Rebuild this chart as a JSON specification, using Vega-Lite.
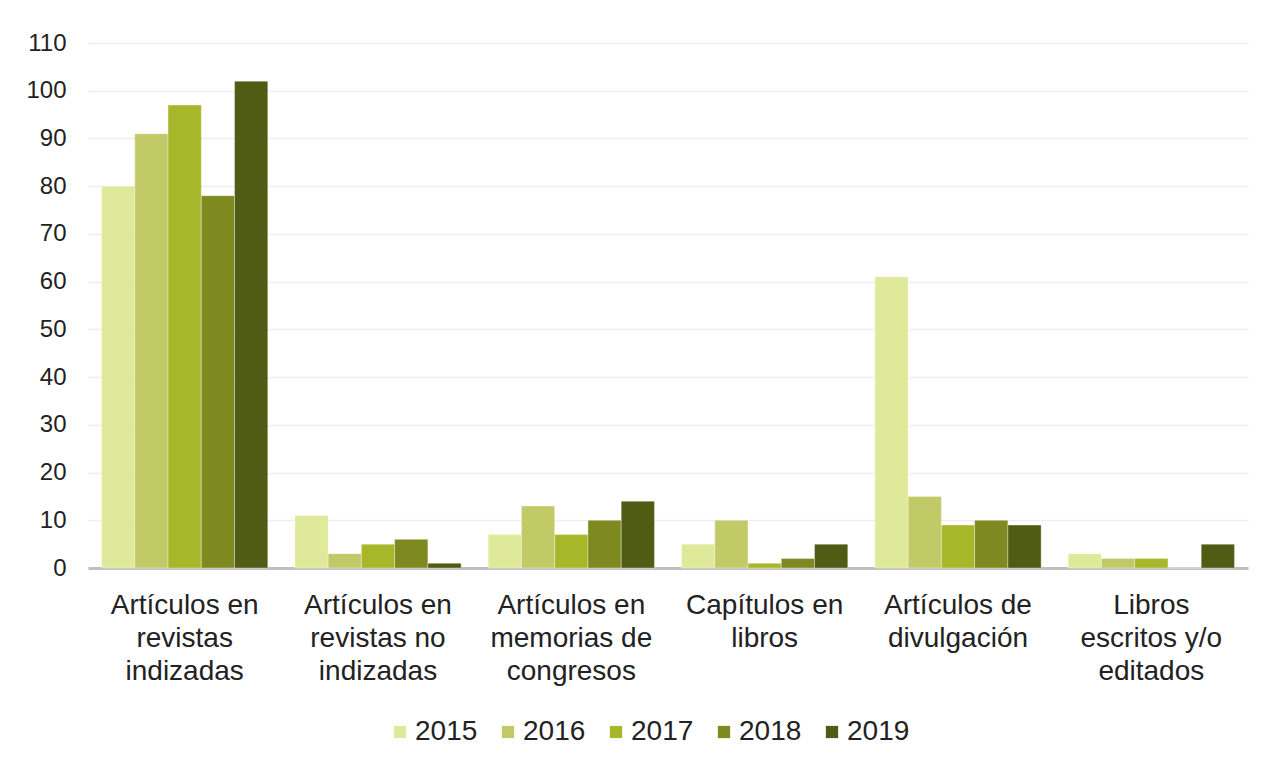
{
  "$schema": "https://vega.github.io/schema/vega-lite/v6.json",
  "autosize": {"type": "none"},
  "width": 1160,
  "height": 525,
  "padding": {"left": 88, "top": 43, "right": 18, "bottom": 199},
  "background": "white",
  "data": {"values": [
    {"cat": "Artículos en|revistas|indizadas", "year": "2015", "value": 80},
    {"cat": "Artículos en|revistas|indizadas", "year": "2016", "value": 91},
    {"cat": "Artículos en|revistas|indizadas", "year": "2017", "value": 97},
    {"cat": "Artículos en|revistas|indizadas", "year": "2018", "value": 78},
    {"cat": "Artículos en|revistas|indizadas", "year": "2019", "value": 102},
    {"cat": "Artículos en|revistas no|indizadas", "year": "2015", "value": 11},
    {"cat": "Artículos en|revistas no|indizadas", "year": "2016", "value": 3},
    {"cat": "Artículos en|revistas no|indizadas", "year": "2017", "value": 5},
    {"cat": "Artículos en|revistas no|indizadas", "year": "2018", "value": 6},
    {"cat": "Artículos en|revistas no|indizadas", "year": "2019", "value": 1},
    {"cat": "Artículos en|memorias de|congresos", "year": "2015", "value": 7},
    {"cat": "Artículos en|memorias de|congresos", "year": "2016", "value": 13},
    {"cat": "Artículos en|memorias de|congresos", "year": "2017", "value": 7},
    {"cat": "Artículos en|memorias de|congresos", "year": "2018", "value": 10},
    {"cat": "Artículos en|memorias de|congresos", "year": "2019", "value": 14},
    {"cat": "Capítulos en|libros", "year": "2015", "value": 5},
    {"cat": "Capítulos en|libros", "year": "2016", "value": 10},
    {"cat": "Capítulos en|libros", "year": "2017", "value": 1},
    {"cat": "Capítulos en|libros", "year": "2018", "value": 2},
    {"cat": "Capítulos en|libros", "year": "2019", "value": 5},
    {"cat": "Artículos de|divulgación", "year": "2015", "value": 61},
    {"cat": "Artículos de|divulgación", "year": "2016", "value": 15},
    {"cat": "Artículos de|divulgación", "year": "2017", "value": 9},
    {"cat": "Artículos de|divulgación", "year": "2018", "value": 10},
    {"cat": "Artículos de|divulgación", "year": "2019", "value": 9},
    {"cat": "Libros|escritos y/o|editados", "year": "2015", "value": 3},
    {"cat": "Libros|escritos y/o|editados", "year": "2016", "value": 2},
    {"cat": "Libros|escritos y/o|editados", "year": "2017", "value": 2},
    {"cat": "Libros|escritos y/o|editados", "year": "2018", "value": 0},
    {"cat": "Libros|escritos y/o|editados", "year": "2019", "value": 5}
  ]},
  "mark": {"type": "bar", "stroke": "#ffffff", "strokeOpacity": 0.35, "strokeWidth": 1},
  "encoding": {
    "x": {
      "field": "cat", "type": "nominal", "sort": null,
      "scale": {"paddingInner": 0.14, "paddingOuter": 0.07},
      "axis": {
        "title": null, "labelAngle": 0, "ticks": false,
        "labelExpr": "split(datum.label, '|')",
        "labelFont": "Liberation Sans", "labelFontSize": 28, "labelColor": "#222",
        "labelLineHeight": 33, "labelPadding": 23, "labelBaseline": "top",
        "domainColor": "#bfbfbf", "domainWidth": 3, "labelLimit": 300
      }
    },
    "xOffset": {"field": "year", "type": "nominal", "scale": {"paddingInner": 0, "paddingOuter": 0}},
    "y": {
      "field": "value", "type": "quantitative",
      "scale": {"domain": [0, 110], "nice": false},
      "axis": {
        "title": null, "values": [0,10,20,30,40,50,60,70,80,90,100,110],
        "domain": false, "ticks": false,
        "labelFont": "Liberation Sans", "labelFontSize": 24, "labelColor": "#222",
        "labelPadding": 22, "gridColor": "#eeeeee", "gridWidth": 1.5
      }
    },
    "color": {
      "field": "year", "type": "nominal",
      "scale": {"domain": ["2015","2016","2017","2018","2019"], "range": ["#dfe99a","#c2ca68","#a8b62a","#7e8a20","#505c14"]},
      "legend": {
        "title": null, "orient": "none", "direction": "horizontal",
        "legendX": 298, "legendY": 675,
        "symbolType": "square", "symbolSize": 150, "symbolStrokeWidth": 0,
        "labelFont": "Liberation Sans", "labelFontSize": 28, "labelColor": "#222",
        "columnPadding": 16, "labelOffset": 1
      }
    }
  },
  "config": {"view": {"stroke": null}}
}
